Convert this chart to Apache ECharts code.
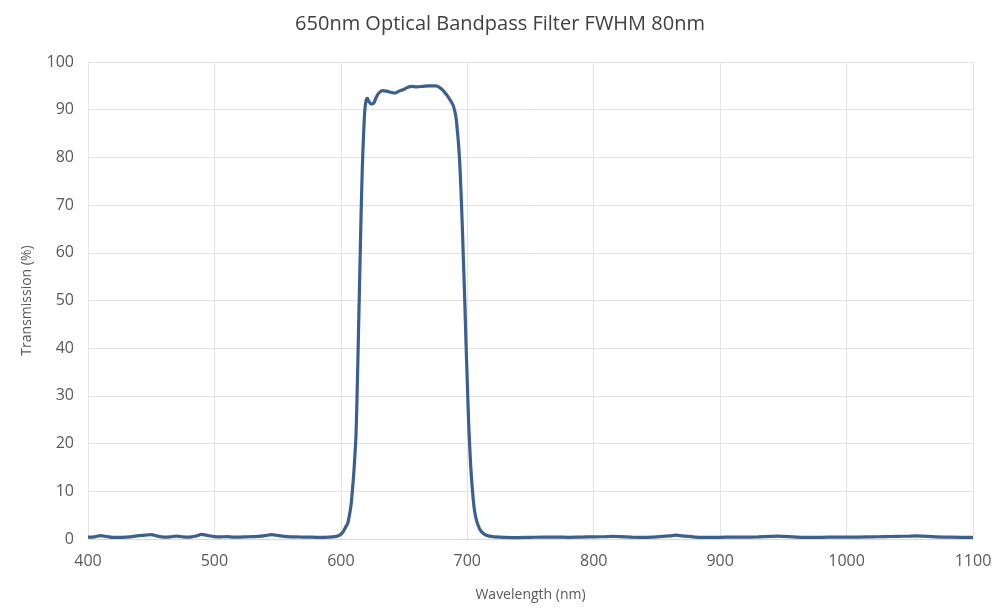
<!DOCTYPE html>
<html>
<head>
<meta charset="utf-8">
<script src="https://cdn.jsdelivr.net/npm/echarts@6/dist/echarts.min.js"></script>
<style>html,body{margin:0;padding:0;background:#fff}#c{width:1000px;height:612px}</style>
</head>
<body>
<div id="c"></div>
<script>
const titleText = '650nm Optical Bandpass Filter FWHM 80nm';
const xName = 'Wavelength (nm)';
const yName = 'Transmission (%)';
const wavelength = [
  400,405,410,415,420,425,430,435,440,445,450,455,460,465,470,475,480,485,490,495,
  500,505,510,515,520,525,530,535,540,545,550,555,560,565,570,575,580,585,590,595,
  598,600,602,604,605,606,608,609,610,611,612,613,614,615,616,617,618,619,620,621,
  622,624,626,628,630,633,636,640,643,646,650,653,656,660,665,670,675,678,681,684,
  687,689,691,692,693,694,695,696,697,698,699,700,701,702,703,704,705,706,707,708,
  710,712,715,720,730,740,750,760,770,780,790,800,810,815,820,830,840,850,860,865,
  870,880,890,900,910,920,930,940,945,950,960,970,980,990,1000,1010,1020,1030,1040,1050,
  1055,1060,1070,1080,1090,1100
];
const transmission = [
  0.4,0.45,0.7,0.5,0.35,0.35,0.4,0.5,0.7,0.8,0.9,0.6,0.4,0.45,0.6,0.45,0.4,0.6,0.95,0.7,
  0.5,0.45,0.5,0.4,0.4,0.45,0.5,0.55,0.7,0.9,0.75,0.55,0.45,0.45,0.4,0.4,0.35,0.35,0.4,0.5,
  0.7,1.0,1.6,2.6,3.0,3.9,7.0,9.8,13,17,22,32,44,56,68,78,85,90,92,92.4,
  91.8,91.2,91.4,92.6,93.5,94,93.9,93.6,93.5,93.9,94.3,94.7,94.9,94.8,94.9,95.0,95.0,94.7,94.0,93.0,
  91.8,90.8,88.5,86,83,79,73,66,58,50,41,33,25,19,14,10.5,7.5,5.5,4.2,3.3,
  2.0,1.3,0.8,0.5,0.35,0.3,0.35,0.4,0.4,0.35,0.4,0.45,0.5,0.55,0.5,0.4,0.35,0.45,0.65,0.8,
  0.65,0.4,0.35,0.35,0.4,0.4,0.45,0.55,0.6,0.55,0.4,0.35,0.35,0.4,0.4,0.4,0.45,0.5,0.55,0.6,
  0.65,0.6,0.45,0.4,0.35,0.35
];
const chart = echarts.init(document.getElementById('c'), null, {renderer:'canvas'});
const fontFam = 'Open Sans, Noto Sans, sans-serif';
chart.setOption({
  animation: false,
  backgroundColor: '#ffffff',
  title: {
    text: titleText, left: 'center', top: 9,
    textStyle: {fontFamily: fontFam, fontSize: 20, fontWeight: 'normal', color: '#404040'}
  },
  grid: {left: 88, right: 27, top: 62, bottom: 73},
  xAxis: {
    type: 'value', min: 400, max: 1100, interval: 100,
    name: xName, nameLocation: 'middle', nameGap: 49,
    nameTextStyle: {fontFamily: fontFam, fontSize: 14, color: '#595959'},
    axisLine: {show: true, lineStyle: {color: '#d9d9d9'}},
    axisTick: {show: false},
    axisLabel: {fontFamily: fontFam, fontSize: 16, color: '#595959', margin: 14,
      formatter: v => String(v)},
    splitLine: {show: true, lineStyle: {color: '#e3e3e3', width: 1}}
  },
  yAxis: {
    type: 'value', min: 0, max: 100, interval: 10,
    name: yName, nameLocation: 'middle', nameGap: 54, nameRotate: 90,
    nameTextStyle: {fontFamily: fontFam, fontSize: 14, color: '#595959'},
    axisLine: {show: true, lineStyle: {color: '#e3e3e3'}},
    axisTick: {show: false},
    axisLabel: {fontFamily: fontFam, fontSize: 16, color: '#595959', margin: 14},
    splitLine: {show: true, lineStyle: {color: '#e3e3e3', width: 1}}
  },
  series: [{
    type: 'line',
    data: wavelength.map((w, i) => [w, transmission[i]]),
    showSymbol: false,
    smooth: 0.3,
    lineStyle: {color: '#3b5f8e', width: 3.2},
    itemStyle: {color: '#3b5f8e'}
  }]
});
</script>
</body>
</html>
